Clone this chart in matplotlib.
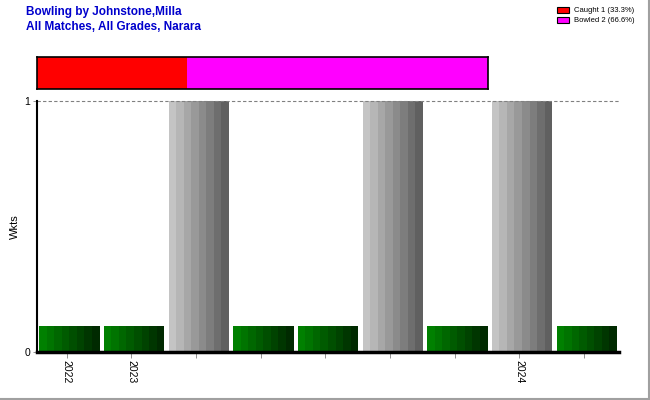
import matplotlib
matplotlib.use("Agg")
import matplotlib.pyplot as plt
import numpy as np
from matplotlib.colors import to_rgb
from matplotlib.patches import Rectangle
from matplotlib.lines import Line2D

plt.rcParams['font.family'] = ['Liberation Sans', 'DejaVu Sans']

# Data
wkts = [0, 0, 1, 0, 0, 1, 0, 1, 0]
tick_labels = ["2022", "2023", "", "", "", "", "", "2024", ""]
dismissals = ["Caught", "Bowled"]
dismissal_counts = [1, 2]
dismissal_pct = [33.3, 66.6]
dismissal_colors = ["#ff0000", "#ff00ff"]
zero_height = 0.105  # display height for innings with no wickets

fig = plt.figure(figsize=(6.5, 4.0), dpi=100)

# Main axes
ax = fig.add_axes([37/650, 48/400, 582/650, 251/400])
n = len(wkts)
bar_w = 0.93
nstripes = 8
green_start, green_end = np.array(to_rgb("#008000")), np.array(to_rgb("#002a00"))
grey_start, grey_end = np.array(to_rgb("#c4c4c4")), np.array(to_rgb("#606060"))
x = np.arange(n)
for i, w in enumerate(wkts):
    h = w if w > 0 else zero_height
    c0, c1 = (grey_start, grey_end) if w > 0 else (green_start, green_end)
    sw = bar_w / nstripes
    lefts = x[i] - bar_w/2 + sw*np.arange(nstripes)
    cols = [tuple(c0 + (c1 - c0) * k/(nstripes-1)) for k in range(nstripes)]
    ax.bar(lefts, [h]*nstripes, width=sw*1.02, align='edge', color=cols, linewidth=0)

ax.set_xlim(-0.5, n - 0.5)
ax.set_ylim(0, 1)
ax.axhline(1, color='#808080', linestyle=(0, (3, 2)), linewidth=0.8, clip_on=False)
ax.set_yticks([0, 1])
ax.set_yticklabels(["0", "1"], fontsize=7.5)
ax.set_xticks(x - 0.04)
ax.set_xticklabels(tick_labels, rotation=270, fontsize=7.5)
ax.tick_params(axis='x', length=4, width=0.6, color='#808080', pad=2)
ax.tick_params(axis='y', length=3, width=0.6, color='#808080', pad=2)
for s in ['top', 'right']:
    ax.spines[s].set_visible(False)
ax.spines['left'].set_linewidth(1.5)
ax.spines['bottom'].set_linewidth(2.5)
ax.set_ylabel("Wkts", fontsize=8)
ax.yaxis.set_label_coords(-0.03, 0.5)

# Dismissal proportion bar
ax2 = fig.add_axes([37/650, (400-89)/400, 451/650, 32/400])
left = 0
for cnt, col in zip(dismissal_counts, dismissal_colors):
    ax2.barh(0, cnt, left=left, height=1, color=col, edgecolor='none')
    left += cnt
ax2.set_xlim(0, sum(dismissal_counts))
ax2.set_ylim(-0.5, 0.5)
ax2.set_xticks([]); ax2.set_yticks([])
for s in ax2.spines.values():
    s.set_linewidth(1.2)

# Titles
fig.text(26/650, 1 - 12/400, "Bowling by Johnstone,Milla", color='#0000cc',
         fontsize=8.5, fontweight='bold', va='center', ha='left')
fig.text(26/650, 1 - 27/400, "All Matches, All Grades, Narara", color='#0000cc',
         fontsize=8.5, fontweight='bold', va='center', ha='left')

# Legend
for k, (name, cnt, pct, col) in enumerate(zip(dismissals, dismissal_counts, dismissal_pct, dismissal_colors)):
    yc = 1 - (10 + 10*k)/400
    fig.patches.append(Rectangle((557/650, yc - 3/400), 12/650, 6/400,
                                 transform=fig.transFigure, facecolor=col,
                                 edgecolor='black', linewidth=0.8))
    fig.text(574/650, yc, f"{name} {cnt} ({pct}%)", fontsize=5.5, va='center', ha='left')

# Frame at right and bottom
fig.add_artist(Line2D([648.5/650, 648.5/650], [0, 1], transform=fig.transFigure,
                      color='#a0a0a0', linewidth=1.5))
fig.add_artist(Line2D([0, 1], [1.5/400, 1.5/400], transform=fig.transFigure,
                      color='#a0a0a0', linewidth=1.5))

fig.savefig("out.png", dpi=100)
